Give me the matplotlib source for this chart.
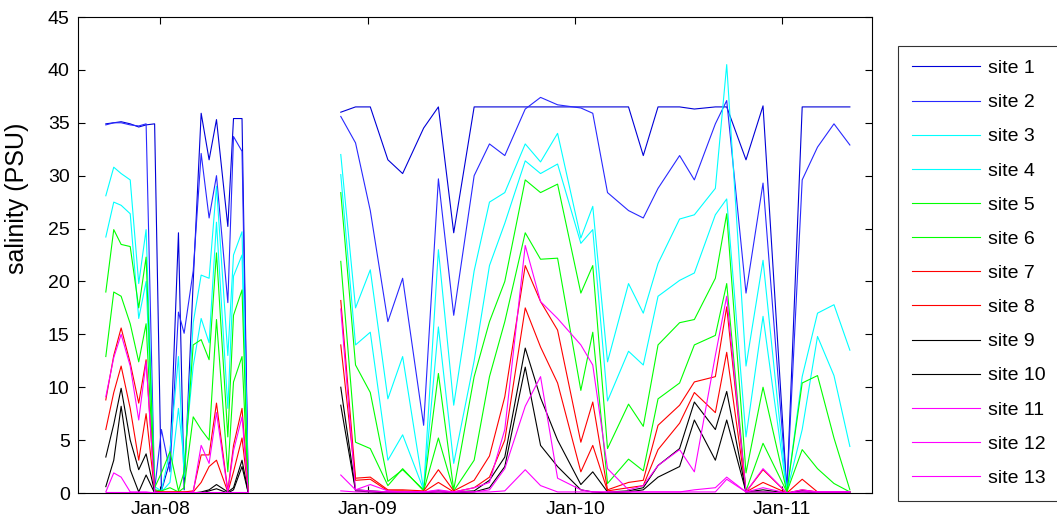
import datetime as dt
import numpy as np
import matplotlib
matplotlib.use('Agg')
import matplotlib.pyplot as plt
import matplotlib.dates as mdates

# sampling dates, two field campaigns
dates_a = ['2007-09-27', '2007-10-11', '2007-10-24', '2007-11-09', '2007-11-24',
           '2007-12-07', '2007-12-22', '2008-01-03', '2008-01-18', '2008-02-02',
           '2008-02-12', '2008-02-28', '2008-03-13', '2008-03-27', '2008-04-09',
           '2008-04-29', '2008-05-09', '2008-05-24', '2008-06-04']
dates_b = ['2008-11-14', '2008-12-10', '2009-01-05', '2009-02-05', '2009-03-03',
           '2009-04-09', '2009-05-05', '2009-06-01', '2009-07-07', '2009-08-03',
           '2009-08-30', '2009-10-05', '2009-11-01', '2009-12-01', '2010-01-11',
           '2010-02-01', '2010-02-27', '2010-04-05', '2010-05-01', '2010-05-27',
           '2010-07-04', '2010-07-30', '2010-09-05', '2010-09-25', '2010-10-29',
           '2010-11-28', '2011-01-09', '2011-02-05', '2011-03-04', '2011-04-02',
           '2011-04-30']

# salinity (PSU) per site, first campaign
sal_a = [
    [34.9, 35.0, 35.1, 34.9, 34.6, 34.8, 34.9, 0.2, 3.0, 24.6, 0.3, 20.0, 35.9, 31.5, 35.3, 25.2, 35.4, 35.4, 0.2],
    [34.8, 35.0, 35.0, 34.8, 34.7, 34.9, 0.3, 6.0, 2.0, 17.1, 15.1, 21.0, 32.1, 26.0, 30.0, 18.0, 33.7, 32.3, 0.2],
    [28.1, 30.8, 30.2, 29.6, 19.8, 24.9, 0.6, 0.2, 4.0, 12.9, 1.5, 16.1, 20.6, 20.3, 29.0, 13.0, 22.5, 24.7, 0.2],
    [24.2, 27.5, 27.2, 26.4, 16.5, 20.0, 0.3, 0.1, 1.0, 8.0, 3.0, 12.0, 16.5, 14.2, 25.6, 8.0, 20.5, 22.5, 0.2],
    [19.0, 24.9, 23.5, 23.3, 17.5, 22.3, 0.5, 1.9, 3.9, 0.2, 2.0, 14.0, 14.5, 12.6, 22.7, 5.3, 16.8, 19.2, 0.2],
    [12.9, 19.0, 18.6, 16.0, 12.4, 16.0, 0.3, 0.2, 0.5, 0.1, 0.5, 7.2, 6.0, 5.0, 16.4, 2.0, 10.5, 12.9, 0.2],
    [8.8, 13.0, 15.6, 12.3, 8.5, 12.6, 0.2, 0.1, 0.1, 0.1, 0.1, 0.2, 3.6, 3.6, 8.5, 0.2, 4.5, 8.0, 0.2],
    [6.0, 9.5, 12.0, 8.0, 3.1, 7.5, 0.1, 0.1, 0.1, 0.1, 0.1, 0.1, 1.0, 2.5, 3.1, 0.1, 2.0, 5.2, 0.1],
    [3.4, 6.5, 9.9, 5.0, 2.2, 3.7, 0.1, 0.0, 0.0, 0.0, 0.0, 0.0, 0.1, 0.3, 0.8, 0.1, 0.5, 3.1, 0.0],
    [0.6, 3.1, 8.2, 2.2, 0.1, 1.7, 0.0, 0.0, 0.0, 0.0, 0.0, 0.0, 0.0, 0.2, 0.4, 0.0, 0.3, 2.5, 0.0],
    [9.1, 12.8, 15.0, 12.0, 6.9, 12.4, 0.1, 0.0, 0.0, 0.0, 0.0, 0.1, 4.5, 2.8, 7.6, 0.1, 4.0, 7.2, 0.1],
    [0.1, 1.9, 1.5, 0.1, 0.1, 0.1, 0.0, 0.0, 0.0, 0.0, 0.0, 0.0, 0.0, 0.0, 0.0, 0.0, 0.0, 0.0, 0.0],
    [0.1, 0.1, 0.1, 0.1, 0.1, 0.1, 0.1, 0.1, 0.1, 0.1, 0.1, 0.1, 0.1, 0.1, 0.1, 0.1, 0.1, 0.1, 0.1],
]

# salinity (PSU) per site, second campaign
sal_b = [
    [36.0, 36.5, 36.5, 31.5, 30.2, 34.5, 36.5, 24.6, 36.5, 36.5, 36.5, 36.5, 36.5, 36.5, 36.5, 36.5,
     36.5, 36.5, 31.9, 36.5, 36.5, 36.3, 36.5, 36.5, 31.5, 36.6, 0.2, 36.5, 36.5, 36.5, 36.5],
    [35.6, 33.1, 26.7, 16.2, 20.3, 6.4, 29.7, 16.8, 30.0, 33.0, 31.9, 36.3, 37.4, 36.7, 36.4, 35.9,
     28.4, 26.7, 26.0, 28.8, 31.9, 29.6, 34.9, 37.1, 18.9, 29.3, 0.2, 29.6, 32.7, 34.9, 32.9],
    [32.0, 17.5, 21.1, 8.9, 12.9, 0.3, 23.0, 8.3, 21.0, 27.5, 28.4, 33.0, 31.3, 34.0, 24.1, 27.1,
     12.4, 19.8, 17.0, 21.7, 25.9, 26.3, 28.8, 40.5, 12.0, 22.0, 0.1, 11.0, 17.0, 17.8, 13.5],
    [30.1, 14.0, 15.2, 3.1, 5.5, 0.3, 15.7, 2.8, 12.5, 21.5, 25.5, 31.4, 30.2, 31.1, 23.6, 24.9,
     8.7, 13.4, 12.1, 18.6, 20.1, 20.8, 26.3, 27.8, 5.3, 16.7, 0.1, 6.0, 14.8, 11.1, 4.4],
    [28.4, 12.1, 9.5, 1.1, 2.2, 0.3, 11.3, 0.3, 11.0, 16.2, 20.0, 29.6, 28.4, 29.2, 18.9, 21.5,
     4.2, 8.4, 6.3, 14.0, 16.1, 16.4, 20.3, 26.4, 1.9, 10.0, 0.1, 10.4, 11.1, 5.2, 0.3],
    [21.9, 4.8, 4.2, 0.7, 2.3, 0.2, 5.2, 0.2, 3.1, 11.0, 16.2, 24.6, 22.1, 22.2, 9.7, 15.2,
     0.9, 3.2, 2.1, 8.9, 10.4, 14.0, 14.9, 19.8, 0.2, 4.7, 0.1, 4.1, 2.3, 0.9, 0.1],
    [18.2, 1.4, 1.5, 0.3, 0.3, 0.2, 2.2, 0.2, 1.2, 3.5, 9.1, 21.5, 18.1, 15.4, 4.8, 8.6,
     0.3, 1.0, 1.2, 6.4, 8.3, 10.5, 11.0, 17.6, 0.1, 2.2, 0.0, 1.3, 0.1, 0.1, 0.1],
    [14.0, 1.2, 1.3, 0.2, 0.2, 0.1, 1.0, 0.1, 0.5, 1.5, 5.0, 17.5, 13.8, 10.4, 2.0, 4.5,
     0.2, 0.5, 0.7, 4.1, 6.6, 9.5, 7.6, 13.3, 0.1, 1.0, 0.0, 0.3, 0.1, 0.1, 0.1],
    [10.0, 0.3, 0.2, 0.1, 0.1, 0.1, 0.2, 0.1, 0.2, 1.2, 3.4, 13.7, 9.0, 5.0, 0.8, 2.0,
     0.1, 0.2, 0.5, 2.6, 4.2, 8.6, 6.0, 9.6, 0.1, 0.3, 0.0, 0.2, 0.1, 0.1, 0.1],
    [8.3, 0.2, 0.1, 0.0, 0.0, 0.0, 0.1, 0.0, 0.1, 0.5, 2.5, 11.9, 4.5, 2.5, 0.3, 0.1,
     0.0, 0.1, 0.3, 1.5, 2.5, 6.9, 3.1, 6.9, 0.1, 0.1, 0.0, 0.1, 0.0, 0.0, 0.0],
    [17.4, 0.3, 0.2, 0.1, 0.1, 0.1, 0.3, 0.1, 0.5, 1.0, 6.0, 23.4, 18.1, 16.5, 14.0, 12.1,
     2.3, 0.3, 0.7, 2.6, 4.1, 2.0, 13.0, 18.6, 0.1, 2.3, 0.0, 0.3, 0.1, 0.1, 0.1],
    [1.7, 0.3, 0.8, 0.2, 0.1, 0.1, 0.1, 0.1, 0.1, 0.3, 2.3, 8.2, 11.0, 1.4, 0.3, 0.1,
     0.1, 0.1, 0.1, 0.1, 0.1, 0.3, 0.5, 1.5, 0.1, 0.5, 0.0, 0.1, 0.1, 0.1, 0.1],
    [0.2, 0.1, 0.1, 0.1, 0.1, 0.1, 0.1, 0.1, 0.1, 0.1, 0.2, 2.2, 0.7, 0.1, 0.1, 0.1,
     0.1, 0.1, 0.1, 0.1, 0.1, 0.1, 0.1, 1.3, 0.1, 0.1, 0.0, 0.1, 0.1, 0.1, 0.1],
]

sites = ['site %d' % (i + 1) for i in range(13)]
colors = ['#0000d8', '#2828ff', '#00ffff', '#00ffff', '#00ff00', '#00ff00', '#ff0000',
          '#ff0000', '#000000', '#000000', '#ff00ff', '#ff00ff', '#ff00ff']

plt.rcParams['font.family'] = ['Liberation Sans', 'DejaVu Sans']

t_a = [dt.datetime.strptime(d, '%Y-%m-%d') for d in dates_a]
t_b = [dt.datetime.strptime(d, '%Y-%m-%d') for d in dates_b]

fig = plt.figure(figsize=(10.57, 5.24), dpi=100)
ax = fig.add_axes([78 / 1057, 1 - 493 / 524, 794 / 1057, 476 / 524])

for name, col, ya, yb in zip(sites, colors, sal_a, sal_b):
    ax.plot(t_a, ya, color=col, lw=0.8, label=name)
    ax.plot(t_b, yb, color=col, lw=0.8)

ax.set_xlim(dt.datetime(2007, 8, 9), dt.datetime(2011, 6, 8))
ax.set_ylim(0, 45)
ax.set_yticks(range(0, 46, 5))
ax.set_xticks([dt.datetime(y, 1, 1) for y in (2008, 2009, 2010, 2011)])
ax.xaxis.set_major_formatter(mdates.DateFormatter('%b-%y'))
ax.tick_params(direction='in', top=True, right=True, length=5, width=0.8,
               labelsize=14, pad=6)
for sp in ax.spines.values():
    sp.set_linewidth(0.8)
ax.set_ylabel('salinity (PSU)', fontsize=18)
ax.yaxis.set_label_coords(-0.062, 0.62)

# only the first line of each site carries a label
leg = fig.legend(loc='upper left', bbox_to_anchor=(898 / 1057, 1 - 46 / 524),
                 borderaxespad=0, fontsize=14, frameon=True, fancybox=False,
                 edgecolor='black', handlelength=3.5, handletextpad=0.42,
                 labelspacing=0.85, borderpad=0.7)
leg.get_frame().set_linewidth(0.8)

fig.savefig('out.png', dpi=100)
